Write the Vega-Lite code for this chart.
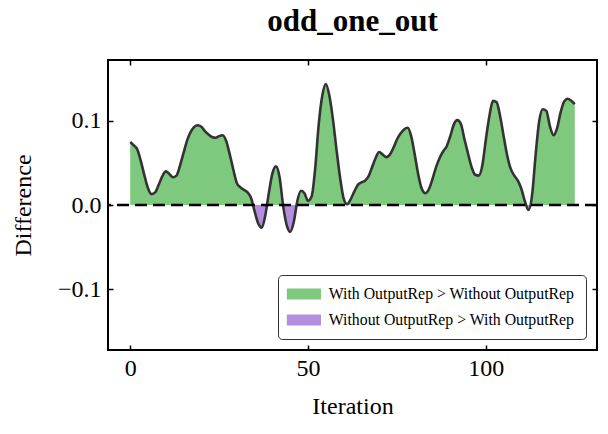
{
  "$schema": "https://vega.github.io/schema/vega-lite/v6.json",
  "width": 489,
  "height": 290,
  "autosize": {"type": "none"},
  "padding": {"left": 108, "top": 60, "right": 11, "bottom": 84},
  "background": "white",
  "title": {"text": "odd_one_out", "font": "Liberation Serif", "fontSize": 31, "fontWeight": "bold", "color": "black", "anchor": "middle", "offset": 21},
  "config": {
    "view": {"stroke": "black", "strokeWidth": 2},
    "axis": {"domain": false, "grid": false, "ticks": true, "tickColor": "black", "tickWidth": 1.5, "tickSize": 5, "offset": -5,
             "labelFont": "Liberation Serif", "labelFontSize": 24, "labelColor": "black",
             "titleFont": "Liberation Serif", "titleFontSize": 24, "titleFontWeight": "normal", "titleColor": "black"}
  },
  "datasets": {
    "diff": [
      {"iteration": 0, "difference": 0.075}, {"iteration": 1, "difference": 0.071}, {"iteration": 2, "difference": 0.066},
      {"iteration": 3, "difference": 0.052}, {"iteration": 4, "difference": 0.035}, {"iteration": 5, "difference": 0.020},
      {"iteration": 6, "difference": 0.013}, {"iteration": 7, "difference": 0.015}, {"iteration": 8, "difference": 0.024},
      {"iteration": 9, "difference": 0.034}, {"iteration": 10, "difference": 0.040}, {"iteration": 11, "difference": 0.037},
      {"iteration": 12, "difference": 0.033}, {"iteration": 13, "difference": 0.035}, {"iteration": 14, "difference": 0.047},
      {"iteration": 15, "difference": 0.062}, {"iteration": 16, "difference": 0.077}, {"iteration": 17, "difference": 0.087},
      {"iteration": 18, "difference": 0.093}, {"iteration": 19, "difference": 0.095}, {"iteration": 20, "difference": 0.093},
      {"iteration": 21, "difference": 0.088}, {"iteration": 22, "difference": 0.084}, {"iteration": 23, "difference": 0.081},
      {"iteration": 24, "difference": 0.080}, {"iteration": 25, "difference": 0.082}, {"iteration": 26, "difference": 0.083},
      {"iteration": 27, "difference": 0.076}, {"iteration": 28, "difference": 0.060}, {"iteration": 29, "difference": 0.042},
      {"iteration": 30, "difference": 0.026}, {"iteration": 31, "difference": 0.021}, {"iteration": 32, "difference": 0.018},
      {"iteration": 33, "difference": 0.015}, {"iteration": 34, "difference": 0.008}, {"iteration": 35, "difference": -0.008},
      {"iteration": 36, "difference": -0.022}, {"iteration": 37, "difference": -0.027}, {"iteration": 38, "difference": -0.012},
      {"iteration": 39, "difference": 0.015}, {"iteration": 40, "difference": 0.038}, {"iteration": 41, "difference": 0.046},
      {"iteration": 42, "difference": 0.033}, {"iteration": 43, "difference": -0.001}, {"iteration": 44, "difference": -0.024},
      {"iteration": 45, "difference": -0.032}, {"iteration": 46, "difference": -0.020}, {"iteration": 47, "difference": 0.005},
      {"iteration": 48, "difference": 0.017}, {"iteration": 49, "difference": 0.014}, {"iteration": 50, "difference": 0.005},
      {"iteration": 51, "difference": 0.010}, {"iteration": 52, "difference": 0.043}, {"iteration": 53, "difference": 0.096},
      {"iteration": 54, "difference": 0.130}, {"iteration": 55, "difference": 0.144}, {"iteration": 56, "difference": 0.130},
      {"iteration": 57, "difference": 0.102}, {"iteration": 58, "difference": 0.066}, {"iteration": 59, "difference": 0.033},
      {"iteration": 60, "difference": 0.008}, {"iteration": 61, "difference": 0.001}, {"iteration": 62, "difference": 0.007},
      {"iteration": 63, "difference": 0.016}, {"iteration": 64, "difference": 0.024}, {"iteration": 65, "difference": 0.027},
      {"iteration": 66, "difference": 0.029}, {"iteration": 67, "difference": 0.034}, {"iteration": 68, "difference": 0.045},
      {"iteration": 69, "difference": 0.056}, {"iteration": 70, "difference": 0.063}, {"iteration": 71, "difference": 0.060},
      {"iteration": 72, "difference": 0.057}, {"iteration": 73, "difference": 0.060}, {"iteration": 74, "difference": 0.068},
      {"iteration": 75, "difference": 0.078}, {"iteration": 76, "difference": 0.085}, {"iteration": 77, "difference": 0.090},
      {"iteration": 78, "difference": 0.092}, {"iteration": 79, "difference": 0.082}, {"iteration": 80, "difference": 0.060},
      {"iteration": 81, "difference": 0.036}, {"iteration": 82, "difference": 0.019}, {"iteration": 83, "difference": 0.014},
      {"iteration": 84, "difference": 0.019}, {"iteration": 85, "difference": 0.031}, {"iteration": 86, "difference": 0.045},
      {"iteration": 87, "difference": 0.056}, {"iteration": 88, "difference": 0.064}, {"iteration": 89, "difference": 0.070},
      {"iteration": 90, "difference": 0.082}, {"iteration": 91, "difference": 0.096}, {"iteration": 92, "difference": 0.101},
      {"iteration": 93, "difference": 0.096}, {"iteration": 94, "difference": 0.078}, {"iteration": 95, "difference": 0.061},
      {"iteration": 96, "difference": 0.045}, {"iteration": 97, "difference": 0.036}, {"iteration": 98, "difference": 0.035},
      {"iteration": 99, "difference": 0.047}, {"iteration": 100, "difference": 0.078}, {"iteration": 101, "difference": 0.106},
      {"iteration": 102, "difference": 0.124}, {"iteration": 103, "difference": 0.1225}, {"iteration": 104, "difference": 0.106},
      {"iteration": 105, "difference": 0.082}, {"iteration": 106, "difference": 0.059}, {"iteration": 107, "difference": 0.043},
      {"iteration": 108, "difference": 0.035}, {"iteration": 109, "difference": 0.029}, {"iteration": 110, "difference": 0.019},
      {"iteration": 111, "difference": 0.004}, {"iteration": 112, "difference": -0.006}, {"iteration": 113, "difference": 0.012},
      {"iteration": 114, "difference": 0.060}, {"iteration": 115, "difference": 0.100}, {"iteration": 116, "difference": 0.114},
      {"iteration": 117, "difference": 0.112}, {"iteration": 118, "difference": 0.094}, {"iteration": 119, "difference": 0.083},
      {"iteration": 120, "difference": 0.091}, {"iteration": 121, "difference": 0.110}, {"iteration": 122, "difference": 0.123},
      {"iteration": 123, "difference": 0.1265}, {"iteration": 124, "difference": 0.124}, {"iteration": 125, "difference": 0.120}
    ],
    "legendItems": [
      {"label": "With OutputRep > Without OutputRep"},
      {"label": "Without OutputRep > With OutputRep"}
    ],
    "zeroLine": [{"level": 0}]
  },
  "layer": [
    {
      "data": {"name": "diff"},
      "mark": {"type": "area", "interpolate": "monotone",
               "color": {"gradient": "linear", "x1": 0, "y1": 0, "x2": 0, "y2": 1,
                         "stops": [{"offset": 0, "color": "#7fc97f"}, {"offset": 0.8182, "color": "#7fc97f"},
                                   {"offset": 0.8182, "color": "#b48fe0"}, {"offset": 1, "color": "#b48fe0"}]}},
      "encoding": {
        "x": {"field": "iteration", "type": "quantitative",
              "scale": {"domain": [-6.25, 131.25], "nice": false, "zero": false},
              "axis": {"orient": "bottom", "values": [0, 50, 100], "title": "Iteration", "labelPadding": 6, "titlePadding": 14}},
        "y": {"field": "difference", "type": "quantitative",
              "scale": {"domain": [-0.1726, 0.1726], "nice": false, "zero": false},
              "axis": {"orient": "left", "values": [-0.1, 0, 0.1], "format": ".1f", "title": "Difference", "labelPadding": 7, "titlePadding": 22}},
        "y2": {"datum": 0}
      }
    },
    {
      "data": {"name": "diff"},
      "mark": {"type": "line", "interpolate": "monotone", "color": "#333333", "strokeWidth": 2.6},
      "encoding": {
        "x": {"field": "iteration", "type": "quantitative",
              "axis": {"orient": "top", "values": [0, 50, 100], "labels": false, "title": null}},
        "y": {"field": "difference", "type": "quantitative",
              "axis": {"orient": "right", "values": [-0.1, 0, 0.1], "labels": false, "title": null}}
      }
    },
    {
      "data": {"name": "zeroLine"},
      "mark": {"type": "rule", "color": "black", "strokeWidth": 2.5, "strokeDash": [12, 6]},
      "encoding": {"y": {"field": "level", "type": "quantitative", "axis": null}}
    },
    {
      "data": {"name": "legendItems"},
      "mark": {"type": "square", "opacity": 0},
      "encoding": {
        "color": {"field": "label", "type": "nominal",
                  "scale": {"domain": ["With OutputRep > Without OutputRep", "Without OutputRep > With OutputRep"], "range": ["#7fc97f", "#b48fe0"]},
                  "legend": {"title": null, "orient": "bottom-right", "offset": 11, "padding": 11,
                             "strokeColor": "#333333", "cornerRadius": 4, "fillColor": "white",
                             "labelFont": "Liberation Serif", "labelFontSize": 15.8, "labelColor": "black", "labelLimit": 0,
                             "symbolType": "M-3.1,-1H3.1V1H-3.1Z", "symbolSize": 121, "symbolStrokeWidth": 0, "symbolOpacity": 1,
                             "symbolOffset": 7, "rowPadding": 9, "labelOffset": 17}}
      }
    }
  ],
  "resolve": {"axis": {"x": "independent", "y": "independent"}}
}
